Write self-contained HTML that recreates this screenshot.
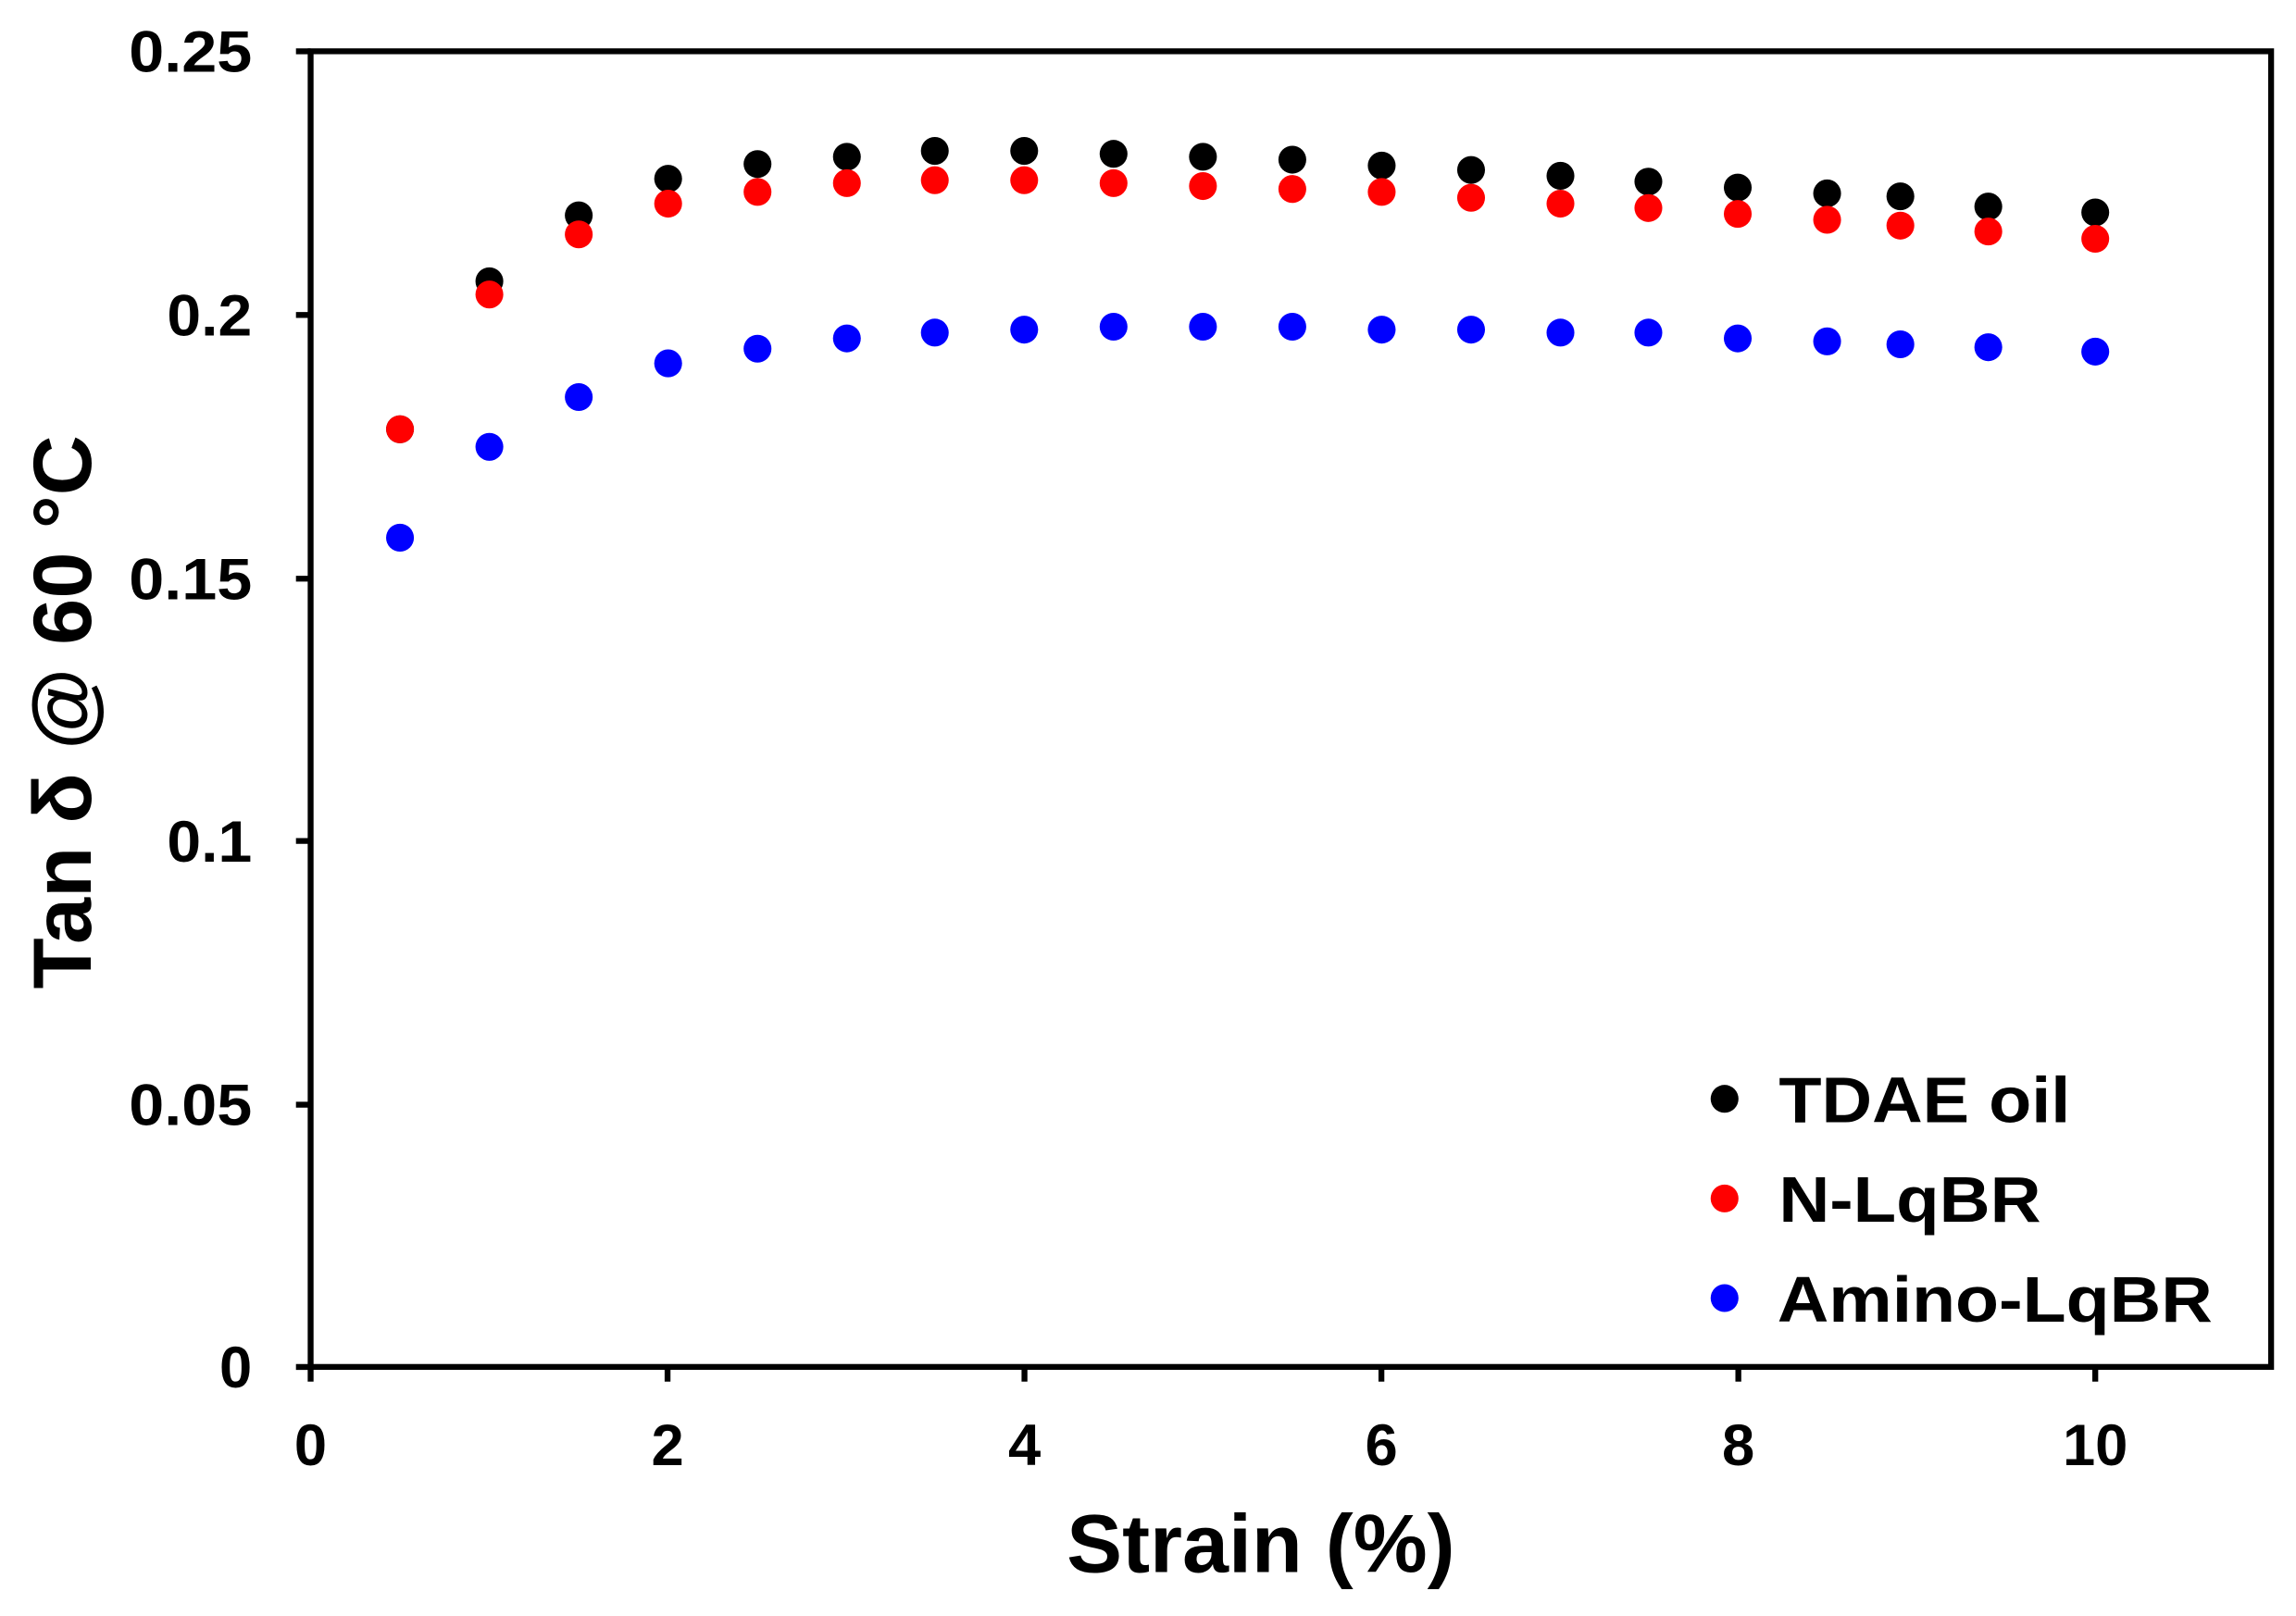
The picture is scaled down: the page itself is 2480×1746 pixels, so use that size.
<!DOCTYPE html>
<html><head><meta charset="utf-8"><style>html,body{margin:0;padding:0;background:#fff}svg{display:block}</style></head>
<body>
<svg width="2480" height="1746" viewBox="0 0 1567 1103" preserveAspectRatio="none" xmlns="http://www.w3.org/2000/svg" font-family="Liberation Sans, Arial, sans-serif">
<rect width="1567" height="1103" fill="#fff"/>
<g stroke="#000" stroke-width="4" fill="none">
<rect x="212" y="35" width="1338" height="898"/>
<path d="M202 35H212M202 215H212M202 395H212M202 574H212M202 754H212M202 933H212"/>
<path d="M212 933V943M455.6 933V943M699.2 933V943M942.8 933V943M1186.4 933V943M1430 933V943"/>
</g>
<g font-size="40" font-weight="bold" text-anchor="end" fill="#000">
<text x="172" y="49" textLength="84" lengthAdjust="spacingAndGlyphs">0.25</text>
<text x="172" y="229" textLength="58" lengthAdjust="spacingAndGlyphs">0.2</text>
<text x="172" y="409" textLength="84" lengthAdjust="spacingAndGlyphs">0.15</text>
<text x="172" y="588" textLength="58" lengthAdjust="spacingAndGlyphs">0.1</text>
<text x="172" y="768" textLength="84" lengthAdjust="spacingAndGlyphs">0.05</text>
<text x="172" y="947">0</text>
</g>
<g font-size="40" font-weight="bold" text-anchor="middle" fill="#000">
<text x="212" y="1000">0</text><text x="455.6" y="1000">2</text><text x="699.2" y="1000">4</text><text x="942.8" y="1000">6</text><text x="1186.4" y="1000">8</text><text x="1430" y="1000">10</text>
</g>
<text x="728" y="1073" font-size="56" font-weight="bold" textLength="265" lengthAdjust="spacingAndGlyphs">Strain (%)</text>
<text transform="translate(62,675) rotate(-90)" font-size="56" font-weight="bold" textLength="378" lengthAdjust="spacingAndGlyphs">Tan δ @ 60 °C</text>
<g fill="#000">
<circle cx="273" cy="293" r="9.5"/><circle cx="334" cy="192" r="9.5"/><circle cx="395" cy="147" r="9.5"/><circle cx="456" cy="122" r="9.5"/><circle cx="517" cy="112" r="9.5"/><circle cx="578" cy="107" r="9.5"/><circle cx="638" cy="103" r="9.5"/><circle cx="699" cy="103" r="9.5"/><circle cx="760" cy="105" r="9.5"/><circle cx="821" cy="107" r="9.5"/><circle cx="882" cy="109" r="9.5"/><circle cx="943" cy="113" r="9.5"/><circle cx="1004" cy="116" r="9.5"/><circle cx="1065" cy="120" r="9.5"/><circle cx="1125" cy="124" r="9.5"/><circle cx="1186" cy="128" r="9.5"/><circle cx="1247" cy="132" r="9.5"/><circle cx="1297" cy="134" r="9.5"/><circle cx="1357" cy="141" r="9.5"/><circle cx="1430" cy="145" r="9.5"/>
</g>
<g fill="#ff0000">
<circle cx="273" cy="293" r="9.5"/><circle cx="334" cy="201" r="9.5"/><circle cx="395" cy="160" r="9.5"/><circle cx="456" cy="139" r="9.5"/><circle cx="517" cy="131" r="9.5"/><circle cx="578" cy="125" r="9.5"/><circle cx="638" cy="123" r="9.5"/><circle cx="699" cy="123" r="9.5"/><circle cx="760" cy="125" r="9.5"/><circle cx="821" cy="127" r="9.5"/><circle cx="882" cy="129" r="9.5"/><circle cx="943" cy="131" r="9.5"/><circle cx="1004" cy="135" r="9.5"/><circle cx="1065" cy="139" r="9.5"/><circle cx="1125" cy="142" r="9.5"/><circle cx="1186" cy="146" r="9.5"/><circle cx="1247" cy="150" r="9.5"/><circle cx="1297" cy="154" r="9.5"/><circle cx="1357" cy="158" r="9.5"/><circle cx="1430" cy="163" r="9.5"/>
</g>
<g fill="#0000ff">
<circle cx="273" cy="367" r="9.5"/><circle cx="334" cy="305" r="9.5"/><circle cx="395" cy="271" r="9.5"/><circle cx="456" cy="248" r="9.5"/><circle cx="517" cy="238" r="9.5"/><circle cx="578" cy="231" r="9.5"/><circle cx="638" cy="227" r="9.5"/><circle cx="699" cy="225" r="9.5"/><circle cx="760" cy="223" r="9.5"/><circle cx="821" cy="223" r="9.5"/><circle cx="882" cy="223" r="9.5"/><circle cx="943" cy="225" r="9.5"/><circle cx="1004" cy="225" r="9.5"/><circle cx="1065" cy="227" r="9.5"/><circle cx="1125" cy="227" r="9.5"/><circle cx="1186" cy="231" r="9.5"/><circle cx="1247" cy="233" r="9.5"/><circle cx="1297" cy="235" r="9.5"/><circle cx="1357" cy="237" r="9.5"/><circle cx="1430" cy="240" r="9.5"/>
</g>
<circle cx="1177" cy="750" r="9.5" fill="#000"/>
<circle cx="1177" cy="818" r="9.5" fill="#ff0000"/>
<circle cx="1177" cy="886" r="9.5" fill="#0000ff"/>
<g font-size="44" font-weight="bold" fill="#000">
<text x="1214" y="766" textLength="199" lengthAdjust="spacingAndGlyphs">TDAE oil</text>
<text x="1214" y="834" textLength="179" lengthAdjust="spacingAndGlyphs">N-LqBR</text>
<text x="1213" y="902" textLength="297" lengthAdjust="spacingAndGlyphs">Amino-LqBR</text>
</g>
</svg>
</body></html>
